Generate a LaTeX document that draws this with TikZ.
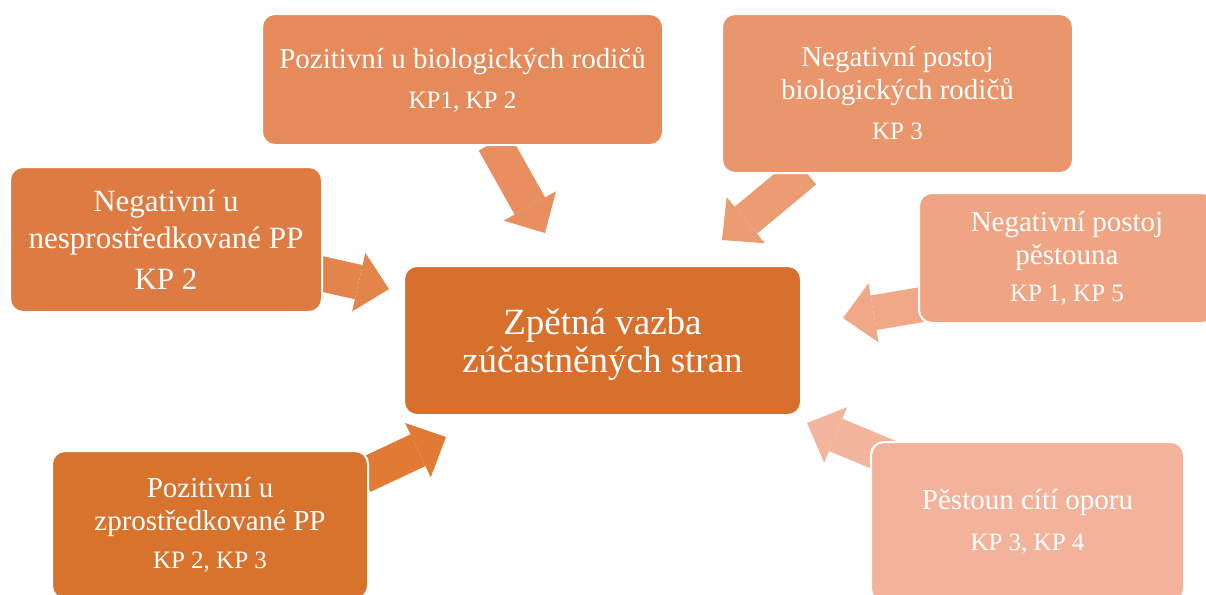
\documentclass[tikz,border=0pt]{standalone}
\usepackage{fontspec}
\setmainfont{Liberation Serif}
\usetikzlibrary{arrows.meta,backgrounds}
\definecolor{zpcol}{RGB}{215,112,45}
\definecolor{lfcol}{RGB}{222,123,66}
\definecolor{lfarr}{RGB}{227,132,74}
\definecolor{blcol}{RGB}{216,115,46}
\definecolor{blarr}{RGB}{224,122,52}
\definecolor{tlcol}{RGB}{228,138,91}
\definecolor{tlarr}{RGB}{233,142,94}
\definecolor{trcol}{RGB}{233,150,109}
\definecolor{trarr}{RGB}{236,156,114}
\definecolor{rtcol}{RGB}{239,165,132}
\definecolor{rtarr}{RGB}{240,168,134}
\definecolor{brcol}{RGB}{242,179,154}
\definecolor{brarr}{RGB}{243,181,156}
\newcommand\titlefont{\fontsize{21.75pt}{24.75pt}\selectfont}
\newcommand\kpfont{\fontsize{18.75pt}{22pt}\selectfont}
\newcommand\bigfont{\fontsize{23.25pt}{27.75pt}\selectfont}
\newcommand\centerfont{\fontsize{27.75pt}{28.5pt}\selectfont}
\tikzset{
  fbbox/.style={rectangle,rounded corners=9.75pt,draw=white,line width=1.5pt,text=white,inner sep=0pt,align=center,font=\titlefont},
  fbarrow/.style={draw,line width=26.25pt,-{Triangle[length=23.25pt,width=45pt,line width=0pt]}}
}
\begin{document}
\begin{tikzpicture}[x=0.75pt,y=-0.75pt]
  \useasboundingbox (0,0) rectangle (1206,594);
  \clip (0,0) rectangle (1206,594);

  \node[fbbox,fill=zpcol,minimum width=297.75pt,minimum height=111.75pt,font=\centerfont] (zp) at (602.5,340.5) {\rule{0pt}{25.5pt}Zpětná vazba\\zúčastněných stran};
  \node[fbbox,fill=tlcol,minimum width=300.75pt,minimum height=98.25pt] (tl) at (462.5,79.5) {Pozitivní u biologických rodičů\\[5.25pt]{\kpfont KP1, KP 2}};
  \node[fbbox,fill=trcol,minimum width=263.25pt,minimum height=119.25pt] (tr) at (897.5,93.5) {Negativní postoj\\biologických rodičů\\[5.25pt]{\kpfont KP 3}};
  \node[fbbox,fill=lfcol,minimum width=234pt,minimum height=108.75pt,font=\bigfont] (lf) at (166,239.5) {Negativní u\\nesprostředkované PP\\[3pt]KP 2};
  \node[fbbox,fill=rtcol,minimum width=222pt,minimum height=97.5pt] (rt) at (1067,258) {Negativní postoj\\pěstouna\\[3pt]{\kpfont KP 1, KP 5}};
  \node[fbbox,fill=blcol,minimum width=237pt,minimum height=111pt] (bl) at (210,525) {Pozitivní u\\zprostředkované PP\\[3.75pt]{\kpfont KP 2, KP 3}};
  \node[fbbox,fill=brcol,minimum width=234.75pt,minimum height=120pt] (br) at (1027.5,522) {Pěstoun cítí oporu\\[6pt]{\kpfont KP 3, KP 4}};

  \coordinate (tlTip) at (545,233);
  \coordinate (trTip) at (722,240);
  \coordinate (lfTip) at (389,289);
  \coordinate (rtTip) at (843,318);
  \coordinate (blTip) at (446,437);
  \coordinate (brTip) at (807,423);

  \begin{scope}[on background layer]
    \path
      ([shift={(31.5,-4)}]tl.south) edge[fbarrow,draw=tlarr] (tlTip)
      ([shift={(-92.5,-3)}]tr.south) edge[fbarrow,draw=trarr] (trTip)
      ([shift={(-5,33.5)}]lf.east) edge[fbarrow,draw=lfarr] (lfTip)
      ([shift={(7,46)}]rt.west) edge[fbarrow,draw=rtarr] (rtTip)
      ([shift={(-6,-49)}]bl.east) edge[fbarrow,draw=blarr] (blTip)
      ([shift={(19,16)}]br.north west) edge[fbarrow,draw=brarr] (brTip);
  \end{scope}
\end{tikzpicture}
\end{document}
